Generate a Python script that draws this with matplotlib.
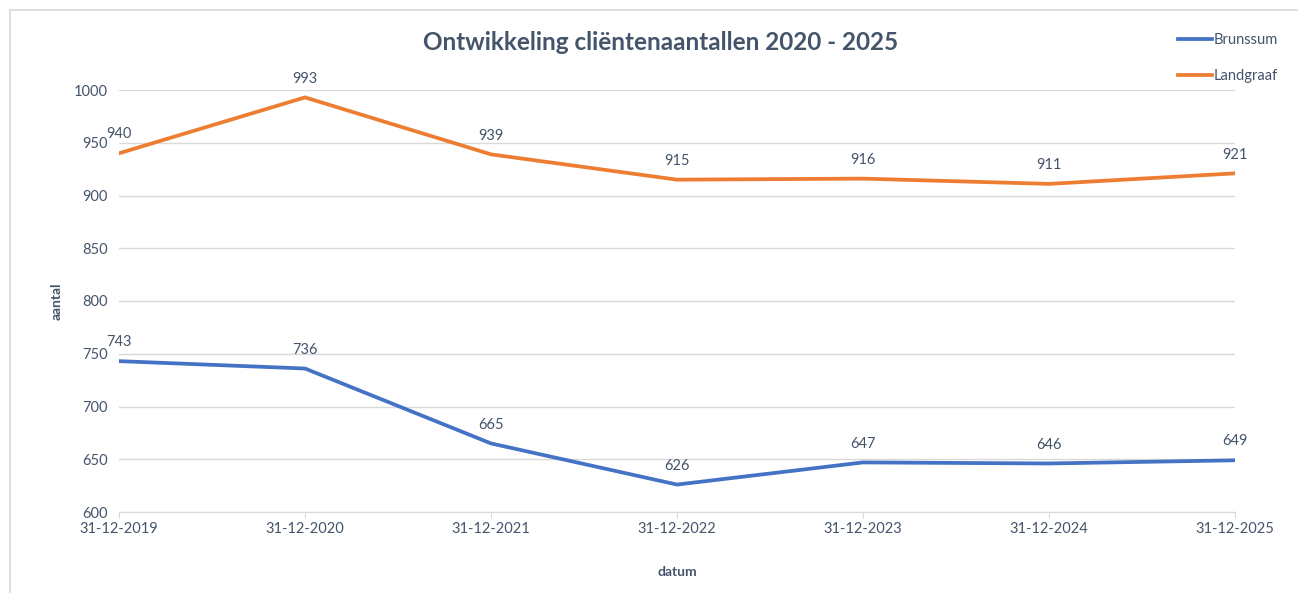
import matplotlib
matplotlib.use("Agg")
import matplotlib.pyplot as plt
from matplotlib.lines import Line2D

dates = ["31-12-2019", "31-12-2020", "31-12-2021", "31-12-2022", "31-12-2023", "31-12-2024", "31-12-2025"]
brunssum = [743, 736, 665, 626, 647, 646, 649]
landgraaf = [940, 993, 939, 915, 916, 911, 921]
yticks = [600, 650, 700, 750, 800, 850, 900, 950, 1000]

plt.rcParams['font.family'] = ['Lato', 'DejaVu Sans']
txt = '#44546A'
grid = '#D9D9D9'
blue = '#4472C4'
orange = '#ED7D31'

fig = plt.figure(figsize=(12.98, 5.93), dpi=100)
ax = fig.add_axes([119/1298, 1-512/593, (1235-119)/1298, (512-90)/593])

x = list(range(len(dates)))
ax.plot(x, brunssum, color=blue, lw=2.7, solid_capstyle='round', solid_joinstyle='round', zorder=3)
ax.plot(x, landgraaf, color=orange, lw=2.7, solid_capstyle='round', solid_joinstyle='round', zorder=3)

for xi, v in zip(x, brunssum):
    ax.annotate(str(v), (xi, v), xytext=(0, 8.5), textcoords='offset points', ha='center', va='bottom', fontsize=10.5, color=txt)
for xi, v in zip(x, landgraaf):
    ax.annotate(str(v), (xi, v), xytext=(0, 8.5), textcoords='offset points', ha='center', va='bottom', fontsize=10.5, color=txt)

ax.set_xlim(0, len(dates) - 1)
ax.set_ylim(600, 1000)
ax.set_yticks(yticks)
ax.set_xticks(x)
ax.set_xticklabels(dates)
ax.grid(axis='y', color=grid, lw=1)
ax.set_axisbelow(True)
for s in ['top', 'right', 'left']:
    ax.spines[s].set_visible(False)
ax.spines['bottom'].set_color(grid)
ax.tick_params(axis='y', length=0, pad=8, labelsize=10.5, labelcolor=txt)
ax.tick_params(axis='x', length=4, color=grid, pad=3, labelsize=10.5, labelcolor=txt)

ax.set_ylabel('aantal', fontsize=10, fontweight='bold', color=txt, labelpad=8)
ax.set_xlabel('datum', fontsize=10, fontweight='bold', color=txt, labelpad=22)

fig.text(661/1298, 1-42/593, 'Ontwikkeling cliëntenaantallen 2020 - 2025', ha='center', va='center',
         fontsize=17.5, fontweight='bold', color=txt)

handles = [Line2D([0], [0], color=blue, lw=2.7), Line2D([0], [0], color=orange, lw=2.7)]
leg = fig.legend(handles, ['Brunssum', 'Landgraaf'], loc='upper left', bbox_to_anchor=(1165/1298, 1-20/593),
                 frameon=False, fontsize=10.5, labelcolor=txt, handlelength=2.3, handletextpad=0.15,
                 labelspacing=1.5)

fig.add_artist(Line2D([10/1298, 10/1298], [0, 1-10/593], color=grid, lw=1.2, transform=fig.transFigure))
fig.add_artist(Line2D([10/1298, 1], [1-10/593, 1-10/593], color=grid, lw=1.2, transform=fig.transFigure))

fig.savefig('out.png', dpi=100)
